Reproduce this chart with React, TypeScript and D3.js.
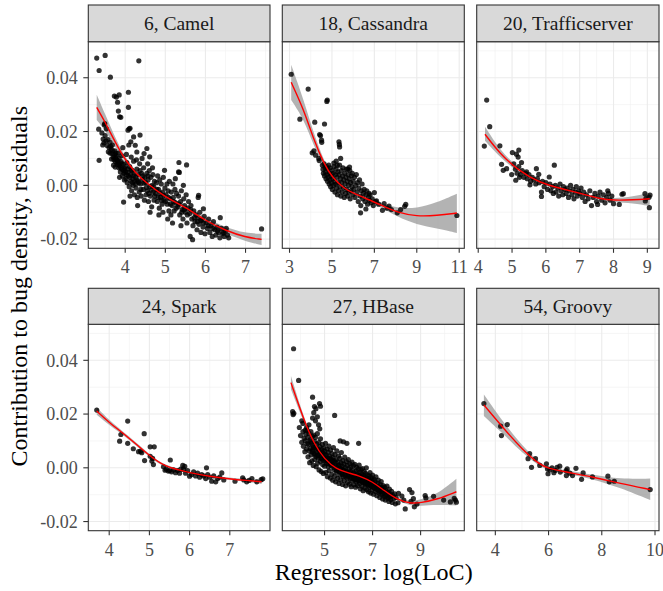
import React from 'react';
import * as d3 from 'd3';

type P = [number, number];

const facetTitles = ['6, Camel', '18, Cassandra', '20, Trafficserver', '24, Spark', '27, HBase', '54, Groovy'];
const xAxisTitle = 'Regressor: log(LoC)';
const yAxisTitle = 'Contribution to bug density, residuals';

const yDomain: P = [-0.0234, 0.0534];
const yTicks = [-0.02, 0, 0.02, 0.04];
const yTickLabels = ['-0.02', '0.00', '0.02', '0.04'];
const yMinor = [-0.01, 0.01, 0.03, 0.05];

const camelXDomain: P = [3.08, 7.61];
const cassandraXDomain: P = [2.66, 11.24];
const trafficXDomain: P = [3.955, 9.345];
const sparkXDomain: P = [3.48, 8.0];
const hbaseXDomain: P = [3.24, 10.82];
const groovyXDomain: P = [3.3, 10.15];

const camelXTicks = [4, 5, 6, 7];
const cassandraXTicks = [3, 5, 7, 9, 11];
const trafficXTicks = [4, 5, 6, 7, 8, 9];
const sparkXTicks = [4, 5, 6, 7];
const hbaseXTicks = [5, 7, 9];
const groovyXTicks = [4, 6, 8, 10];

const camelXMinor = [3.5, 4.5, 5.5, 6.5, 7.5];
const cassandraXMinor = [4, 6, 8, 10];
const trafficXMinor = [4.5, 5.5, 6.5, 7.5, 8.5];
const sparkXMinor = [3.5, 4.5, 5.5, 6.5, 7.5];
const hbaseXMinor = [4, 6, 8, 10];
const groovyXMinor = [5, 7, 9];

const camelPoints: P[] = [
  [3.29,0.0473],[3.50,0.0483],[3.35,0.0427],[3.63,0.0402],[4.34,0.0463],[3.73,0.0332],[3.78,0.0328],[3.81,0.0309],[4.08,0.0346],[4.08,0.0290],
  [3.83,0.0276],[3.89,0.0253],[3.86,0.0255],[3.34,0.0209],[3.35,0.0093],[3.49,0.0230],[4.10,0.0210],[4.12,0.0212],[4.37,0.0187],[4.07,0.0205],
  [3.96,-0.0062],[4.98,0.0056],[5.34,0.0085],[5.53,0.0076],[5.33,0.0050],[5.35,0.0048],[5.83,-0.0037],[5.82,-0.0045],[5.95,-0.0087],[6.37,-0.0120],
  [7.40,-0.0162],[5.68,-0.0202],[5.62,-0.0190],[3.85,0.0336],[4.21,0.0180],[4.25,0.0149],[4.14,0.0162],[4.29,0.0124],[4.54,0.0137],[4.47,0.0118],[4.61,0.0106],
  [3.42,0.0195],[3.45,0.0172],[3.47,0.0158],[3.50,0.0185],[3.52,0.0165],[3.55,0.0148],[3.57,0.0170],[3.60,0.0140],[3.58,0.0125],[3.62,0.0160],[3.44,0.0150],[3.53,0.0210],[3.48,0.0225],
  [3.65,0.0135],[3.67,0.0118],[3.70,0.0105],[3.72,0.0095],[3.68,0.0150],[3.74,0.0128],[3.76,0.0088],[3.78,0.0110],[3.71,0.0075],[3.79,0.0095],[3.75,0.0068],[3.66,0.0098],[3.80,0.0078],[3.77,0.0120],
  [3.82,0.0085],[3.84,0.0065],[3.85,0.0100],[3.87,0.0072],[3.88,0.0050],[3.90,0.0088],[3.92,0.0060],[3.93,0.0035],[3.95,0.0078],[3.97,0.0045],[3.98,0.0020],[3.86,0.0030],[3.91,0.0110],[3.99,0.0062],[3.83,0.0120],[3.94,0.0140],
  [4.01,0.0050],[4.02,0.0025],[4.04,0.0085],[4.05,0.0010],[4.06,0.0060],[4.08,0.0035],[4.10,-0.0005],[4.11,0.0070],[4.13,0.0040],[4.14,0.0015],[4.16,-0.0020],[4.17,0.0055],[4.19,0.0025],[4.20,0.0000],[4.22,0.0045],[4.23,-0.0035],[4.03,0.0115],[4.09,0.0150],[4.15,0.0105],[4.21,0.0090],[4.12,-0.0040],[4.24,0.0015],
  [4.26,0.0030],[4.27,-0.0010],[4.29,0.0060],[4.30,-0.0045],[4.32,0.0015],[4.33,0.0040],[4.35,-0.0025],[4.36,0.0080],[4.38,0.0005],[4.40,-0.0040],[4.41,0.0045],[4.43,0.0020],[4.45,-0.0015],[4.46,0.0065],[4.48,-0.0055],[4.49,0.0030],[4.31,-0.0075],[4.28,0.0095],[4.42,0.0100],
  [4.51,0.0010],[4.52,-0.0035],[4.54,0.0045],[4.55,-0.0020],[4.57,0.0020],[4.58,-0.0060],[4.60,0.0055],[4.61,-0.0005],[4.63,-0.0040],[4.64,0.0030],[4.66,-0.0080],[4.67,0.0000],[4.69,0.0040],[4.70,-0.0025],[4.72,-0.0055],[4.73,0.0015],[4.56,0.0080],[4.62,-0.0100],[4.68,0.0065],
  [4.76,-0.0030],[4.78,0.0010],[4.80,-0.0060],[4.81,0.0035],[4.83,-0.0015],[4.85,-0.0085],[4.86,0.0020],[4.88,-0.0045],[4.90,0.0005],[4.92,-0.0070],[4.93,-0.0025],[4.95,0.0030],[4.97,-0.0055],[4.99,-0.0010],[4.84,-0.0110],[4.94,-0.0100],
  [5.02,-0.0035],[5.04,0.0005],[5.05,-0.0070],[5.07,-0.0020],[5.09,-0.0095],[5.10,0.0015],[5.12,-0.0050],[5.14,-0.0110],[5.15,-0.0025],[5.17,-0.0075],[5.19,0.0005],[5.20,-0.0045],[5.22,-0.0095],[5.24,-0.0015],[5.26,-0.0065],[5.28,-0.0030],[5.06,-0.0125],[5.18,-0.0140],[5.25,0.0025],
  [5.31,-0.0080],[5.33,-0.0040],[5.36,-0.0110],[5.38,-0.0060],[5.40,-0.0020],[5.42,-0.0090],[5.44,-0.0125],[5.46,-0.0050],[5.48,-0.0075],[5.50,-0.0100],[5.52,-0.0035],[5.54,-0.0140],[5.56,-0.0085],[5.58,-0.0060],[5.39,-0.0150],[5.45,0.0000],
  [5.61,-0.0105],[5.64,-0.0075],[5.66,-0.0125],[5.69,-0.0150],[5.71,-0.0095],[5.74,-0.0135],[5.76,-0.0110],[5.79,-0.0165],[5.81,-0.0120],[5.84,-0.0145],[5.86,-0.0100],[5.89,-0.0175],[5.91,-0.0130],[5.94,-0.0155],[5.97,-0.0115],[5.99,-0.0180],
  [6.02,-0.0140],[6.05,-0.0160],[6.08,-0.0125],[6.11,-0.0175],[6.14,-0.0150],[6.17,-0.0190],[6.20,-0.0135],[6.23,-0.0165],[6.26,-0.0185],[6.29,-0.0155],[6.33,-0.0175],[6.36,-0.0195],[6.40,-0.0160],[6.43,-0.0180],[6.47,-0.0190],[6.50,-0.0170],[6.55,-0.0185],[6.58,-0.0195],[6.52,-0.0160],
  [3.62,0.0120],[3.64,0.0145],[3.69,0.0128],[3.73,0.0112],[3.76,0.0102],[3.81,0.0092],[3.84,0.0078],[3.89,0.0065],[3.91,0.0082],[3.96,0.0055],[4.00,0.0070],[4.03,0.0040],
  [4.07,0.0048],[4.11,0.0030],[4.15,0.0058],[4.18,0.0010],[4.21,0.0035],[4.26,0.0005],[4.30,0.0020],[4.34,0.0010],[4.37,0.0055],[4.39,-0.0015],[4.44,0.0035],[4.47,0.0008],
  [4.53,-0.0008],[4.57,0.0035],[4.59,-0.0030],[4.65,-0.0018],[4.71,-0.0005],[4.74,-0.0040],[4.79,-0.0015],[4.82,-0.0045],[4.87,-0.0030],[4.91,-0.0055],[4.96,-0.0038],[5.01,-0.0060],
  [5.08,-0.0045],[5.13,-0.0070],[5.21,-0.0060],[5.27,-0.0085],[5.34,-0.0070],[5.41,-0.0100],[5.47,-0.0090],[5.55,-0.0110],[5.63,-0.0090],[5.72,-0.0120],[5.80,-0.0135],[5.88,-0.0130],
  [5.95,-0.0140],[6.07,-0.0150],[6.18,-0.0160],[6.30,-0.0170],[6.45,-0.0175],
];

const cassandraPoints: P[] = [
  [3.08,0.0413],[3.49,0.0246],[3.88,0.0358],[4.78,0.0317],[4.76,0.0312],[4.19,0.0235],[4.42,0.0189],[4.46,0.0185],[4.65,0.0228],[4.51,0.0168],[4.52,0.0160],
  [5.33,0.0162],[5.36,0.0143],[5.35,0.0152],[4.07,0.0121],[4.23,0.0112],[4.15,0.0128],[5.41,0.0100],[5.09,0.0083],[5.25,0.0075],[5.20,0.0090],[5.83,0.0068],[5.75,0.0060],
  [4.38,0.0100],[4.40,0.0092],[6.35,-0.0102],[6.60,-0.0088],[7.00,-0.0027],[6.75,-0.0030],[7.46,-0.0068],[7.38,-0.0093],[7.69,-0.0077],[7.60,-0.0085],[8.08,-0.0102],
  [8.24,-0.0090],[8.48,-0.0071],[8.43,-0.0078],[10.89,-0.0112],[7.20,-0.0070],[7.10,-0.0058],[7.80,-0.0090],
  [4.55,0.0075],[4.58,0.0060],[4.60,0.0045],[4.63,0.0080],[4.65,0.0035],[4.68,0.0065],[4.70,0.0050],[4.72,0.0025],[4.74,0.0070],[4.77,0.0040],[4.79,0.0015],[4.80,0.0060],
  [4.83,0.0030],[4.85,0.0075],[4.87,0.0005],[4.89,0.0045],[4.90,0.0020],[4.92,0.0065],[4.94,-0.0005],[4.96,0.0035],[4.98,0.0010],
  [5.00,0.0055],[5.02,-0.0015],[5.04,0.0025],[5.06,0.0045],[5.08,0.0000],[5.10,0.0070],[5.12,0.0015],[5.14,-0.0025],[5.16,0.0040],[5.18,0.0005],[5.20,0.0060],[5.22,-0.0010],
  [5.24,0.0030],[5.26,-0.0035],[5.28,0.0050],[5.30,0.0010],[5.32,-0.0020],[5.34,0.0040],[5.36,0.0075],[5.38,-0.0005],[5.40,0.0025],[5.42,-0.0040],[5.44,0.0055],[5.46,0.0010],
  [5.48,-0.0025],[5.50,0.0035],[5.52,0.0065],[5.54,-0.0010],[5.56,0.0020],[5.58,-0.0045],
  [5.60,0.0045],[5.62,0.0005],[5.64,-0.0030],[5.66,0.0030],[5.68,0.0060],[5.70,-0.0015],[5.72,0.0015],[5.74,-0.0040],[5.76,0.0040],[5.78,0.0000],[5.80,-0.0025],[5.82,0.0025],
  [5.84,0.0055],[5.86,-0.0050],[5.88,0.0010],[5.90,-0.0020],[5.92,0.0035],[5.94,-0.0005],[5.96,0.0045],[5.98,-0.0035],
  [6.00,0.0015],[6.03,-0.0015],[6.06,0.0030],[6.09,-0.0045],[6.12,0.0000],[6.15,0.0040],[6.18,-0.0025],[6.21,0.0010],[6.24,-0.0060],[6.27,-0.0010],[6.30,0.0020],[6.33,-0.0040],
  [6.36,-0.0075],[6.39,-0.0020],[6.42,0.0005],[6.45,-0.0050],[6.48,-0.0030],
  [6.52,-0.0015],[6.56,-0.0060],[6.60,-0.0035],[6.64,-0.0020],[6.68,-0.0070],[6.72,-0.0045],[6.76,-0.0055],[6.80,-0.0035],[6.85,-0.0065],[6.90,-0.0050],[6.95,-0.0075],[7.05,-0.0060],
];

const trafficPoints: P[] = [
  [4.25,0.0317],[4.34,0.0218],[4.18,0.0146],[4.64,0.0147],[4.69,0.0078],[4.74,0.0056],[4.84,0.0062],[4.99,0.0040],[5.01,0.0122],[5.13,0.0116],[5.20,0.0131],[5.18,0.0105],
  [5.28,0.0085],[5.11,0.0019],[5.22,0.0030],[5.43,0.0050],[5.53,0.0002],[5.72,0.0062],[5.79,0.0041],[5.87,-0.0025],[5.87,-0.0041],[6.25,0.0075],[6.10,0.0031],
  [7.35,-0.0075],[7.53,-0.0071],[8.00,-0.0068],[8.17,-0.0071],[8.29,-0.0031],[8.25,-0.0033],[8.93,-0.0031],[9.06,-0.0083],[9.05,-0.0044],[8.94,-0.0058],[9.08,-0.0036],[8.96,-0.0048],
  [5.05,0.0080],[5.10,0.0060],[5.15,0.0045],[5.20,0.0070],[5.25,0.0040],[5.30,0.0055],[5.35,0.0030],[5.40,0.0045],[5.45,0.0025],[5.50,0.0040],[5.55,0.0015],[5.60,0.0030],
  [5.65,0.0020],[5.70,0.0005],[5.75,0.0025],[5.80,0.0010],[5.90,0.0015],[5.95,-0.0005],[6.00,0.0010],[6.05,-0.0015],[6.12,0.0005],[6.15,-0.0020],[6.20,-0.0005],[6.22,-0.0030],
  [6.28,0.0000],[6.30,-0.0025],[6.35,-0.0010],[6.38,-0.0040],[6.42,0.0005],[6.45,-0.0020],[6.50,-0.0035],[6.52,-0.0005],[6.56,-0.0015],[6.60,-0.0030],[6.63,-0.0010],[6.67,-0.0045],
  [6.70,-0.0020],[6.73,0.0000],[6.77,-0.0035],[6.80,-0.0015],[6.83,-0.0050],[6.87,-0.0025],[6.90,-0.0005],[6.93,-0.0040],[6.97,-0.0020],[7.00,-0.0030],[7.04,-0.0010],[7.08,-0.0045],
  [7.12,-0.0025],[7.16,-0.0060],[7.20,-0.0035],[7.25,-0.0050],[7.30,-0.0020],[7.40,-0.0045],[7.45,-0.0030],[7.50,-0.0060],[7.55,-0.0040],[7.60,-0.0025],[7.65,-0.0055],[7.70,-0.0035],
  [7.75,-0.0065],[7.80,-0.0045],[7.83,-0.0020],[7.90,-0.0055],[7.95,-0.0040],[7.85,-0.0030],
];

const sparkPoints: P[] = [
  [3.69,0.0215],[4.26,0.0099],[4.29,0.0124],[4.46,0.0174],[4.46,0.0091],[4.60,0.0071],[4.73,0.0060],[4.81,0.0056],[4.78,0.0062],[4.87,0.0127],[4.88,0.0027],[5.02,0.0043],
  [5.02,0.0078],[5.12,0.0078],[5.06,0.0025],[5.10,0.0012],[5.08,0.0035],[5.35,0.0004],[5.39,-0.0009],[5.52,0.0029],[5.47,-0.0012],[5.83,0.0009],[5.88,0.0005],[5.85,-0.0005],
  [6.00,-0.0031],[6.42,0.0000],[6.80,-0.0019],[6.55,-0.0050],[6.65,-0.0052],[7.13,-0.0050],[7.32,-0.0037],[7.42,-0.0052],[7.55,-0.0040],[7.67,-0.0052],[7.82,-0.0041],[7.78,-0.0044],
  [7.35,-0.0045],[7.48,-0.0047],
  [5.42,-0.0005],[5.50,-0.0010],[5.55,-0.0015],[5.60,-0.0008],[5.65,-0.0018],[5.70,-0.0010],[5.75,-0.0020],[5.78,-0.0005],[5.90,-0.0020],[5.95,-0.0010],[6.05,-0.0025],[6.10,-0.0015],
  [6.15,-0.0030],[6.20,-0.0020],[6.25,-0.0035],[6.30,-0.0025],[6.35,-0.0030],[6.40,-0.0040],[6.45,-0.0025],[6.50,-0.0035],[6.60,-0.0030],[6.70,-0.0040],[6.75,-0.0035],[6.85,-0.0045],
];

const hbasePoints: P[] = [
  [3.71,0.0443],[3.92,0.0325],[4.50,0.0263],[3.67,0.0209],[3.72,0.0203],[3.69,0.0198],[5.42,0.0195],[4.79,0.0239],[4.83,0.0229],[4.64,0.0220],[4.58,0.0228],[4.55,0.0205],
  [4.70,0.0190],[4.62,0.0175],[4.50,0.0185],[4.10,0.0165],[4.05,0.0175],[4.25,0.0150],[4.20,0.0140],[4.35,0.0160],[4.75,0.0160],[4.80,0.0145],[5.79,0.0097],[5.93,0.0091],
  [6.42,0.0091],[5.65,0.0100],[8.36,-0.0153],[8.54,-0.0081],[8.64,-0.0092],[9.19,-0.0103],[9.22,-0.0112],[9.54,-0.0106],[9.96,-0.0120],[10.24,-0.0127],[10.40,-0.0114],
  [10.49,-0.0128],[10.45,-0.0120],[8.06,-0.0130],[8.08,-0.0095],[8.22,-0.0105],[8.74,-0.0145],[8.85,-0.0135],[8.60,-0.0125],[8.70,-0.0115],[8.30,-0.0120],
  [3.95,0.0150],[4.00,0.0120],[4.05,0.0095],[4.10,0.0135],[4.12,0.0080],[4.15,0.0110],[4.18,0.0060],[4.20,0.0100],[4.22,0.0125],[4.25,0.0070],[4.27,0.0090],[4.28,0.0140],
  [4.30,0.0112],[4.31,0.0041],[4.33,0.0087],[4.35,0.0128],[4.36,0.0063],[4.38,0.0019],[4.40,0.0104],[4.41,0.0072],[4.43,0.0135],[4.44,0.0048],[4.46,0.0091],[4.47,0.0026],
  [4.49,0.0117],[4.50,0.0066],[4.52,0.0083],[4.53,0.0009],[4.55,0.0122],[4.56,0.0054],[4.58,0.0098],[4.59,0.0031],[4.61,0.0076],[4.62,0.0113],[4.64,0.0042],[4.65,0.0004],
  [4.67,0.0089],[4.68,0.0058],[4.70,0.0127],[4.71,0.0017],[4.73,0.0071],[4.74,0.0036],[4.76,0.0094],[4.77,-0.0008],[4.79,0.0052],[4.80,0.0079],[4.82,0.0024],[4.83,0.0108],
  [4.85,0.0046],[4.86,-0.0014],[4.88,0.0068],[4.89,0.0033],[4.91,0.0087],[4.92,0.0012],[4.94,0.0055],[4.95,-0.0021],[4.97,0.0074],[4.98,0.0039],
  [5.00,0.0006],[5.01,0.0062],[5.03,0.0027],[5.04,0.0091],[5.06,-0.0017],[5.07,0.0048],[5.09,0.0015],[5.10,0.0070],[5.12,-0.0033],[5.13,0.0036],[5.15,0.0058],[5.16,0.0003],
  [5.18,0.0081],[5.19,-0.0011],[5.21,0.0044],[5.22,0.0021],[5.24,-0.0038],[5.25,0.0066],[5.27,0.0009],[5.28,0.0032],[5.30,-0.0024],[5.31,0.0053],[5.33,0.0014],[5.34,-0.0046],
  [5.36,0.0038],[5.37,0.0075],[5.39,-0.0006],[5.40,0.0025],[5.42,-0.0031],[5.43,0.0049],[5.45,0.0008],[5.46,-0.0052],[5.48,0.0030],[5.49,-0.0016],[5.51,0.0063],[5.52,0.0002],
  [5.54,-0.0039],[5.55,0.0022],[5.57,-0.0009],[5.58,0.0044],[5.60,-0.0058],[5.61,0.0011],[5.63,-0.0027],[5.64,0.0035],[5.66,-0.0004],[5.67,-0.0045],[5.69,0.0018],[5.70,0.0057],
  [5.72,-0.0019],[5.73,0.0006],[5.75,-0.0062],[5.76,0.0027],[5.78,-0.0033],[5.79,-0.0008],[5.81,0.0014],[5.82,-0.0048],[5.84,0.0040],[5.85,-0.0023],[5.87,0.0001],[5.88,-0.0067],
  [5.90,-0.0012],[5.91,0.0023],[5.93,-0.0037],[5.94,0.0009],[5.96,-0.0054],[5.97,-0.0018],[5.99,0.0031],
  [6.01,-0.0029],[6.02,-0.0003],[6.04,-0.0061],[6.05,0.0016],[6.07,-0.0041],[6.08,-0.0013],[6.10,0.0004],[6.11,-0.0070],[6.13,-0.0026],[6.14,0.0021],[6.16,-0.0049],[6.17,-0.0009],
  [6.19,-0.0035],[6.20,0.0008],[6.22,-0.0063],[6.23,-0.0019],[6.25,-0.0044],[6.26,0.0013],[6.28,-0.0031],[6.29,-0.0072],[6.31,-0.0011],[6.32,-0.0052],[6.34,0.0002],[6.35,-0.0038],
  [6.37,-0.0022],[6.38,-0.0066],[6.40,-0.0005],[6.41,-0.0047],[6.43,-0.0028],[6.44,0.0010],[6.46,-0.0058],[6.47,-0.0016],[6.49,-0.0078],[6.50,-0.0034],[6.52,-0.0007],[6.53,-0.0050],
  [6.55,-0.0024],[6.56,-0.0069],[6.58,-0.0003],[6.59,-0.0041],[6.61,-0.0085],[6.62,-0.0029],[6.64,-0.0056],[6.65,-0.0014],[6.67,-0.0046],[6.68,-0.0075],[6.70,-0.0021],[6.71,-0.0060],
  [6.73,-0.0037],[6.74,0.0000],[6.76,-0.0082],[6.77,-0.0048],[6.79,-0.0026],[6.80,-0.0065],[6.82,-0.0040],[6.83,-0.0089],[6.85,-0.0031],[6.86,-0.0057],[6.88,-0.0073],[6.89,-0.0018],
  [6.91,-0.0050],[6.92,-0.0094],[6.94,-0.0036],[6.95,-0.0068],[6.97,-0.0045],[6.98,-0.0081],
  [7.00,-0.0027],[7.02,-0.0060],[7.04,-0.0098],[7.06,-0.0043],[7.08,-0.0076],[7.10,-0.0052],[7.12,-0.0088],[7.14,-0.0034],[7.16,-0.0069],[7.18,-0.0104],[7.20,-0.0057],[7.22,-0.0082],
  [7.24,-0.0046],[7.26,-0.0093],[7.28,-0.0071],[7.30,-0.0110],[7.32,-0.0062],[7.34,-0.0087],[7.36,-0.0051],[7.38,-0.0099],[7.40,-0.0075],[7.42,-0.0116],[7.44,-0.0066],[7.46,-0.0090],
  [7.48,-0.0106],[7.50,-0.0072],[7.53,-0.0120],[7.55,-0.0085],[7.58,-0.0101],[7.60,-0.0068],[7.63,-0.0113],[7.65,-0.0092],[7.68,-0.0125],[7.70,-0.0079],[7.73,-0.0107],[7.76,-0.0118],
  [7.79,-0.0088],[7.82,-0.0129],[7.85,-0.0103],[7.88,-0.0115],[7.92,-0.0097],[7.95,-0.0134],[7.98,-0.0110],
  [4.42,0.0098],[4.48,0.0060],[4.54,0.0075],[4.60,0.0050],[4.66,0.0069],[4.72,0.0045],[4.78,0.0064],[4.84,0.0037],[4.90,0.0058],[4.96,0.0028],[5.02,0.0047],[5.08,0.0030],
  [5.14,0.0018],[5.20,0.0035],[5.26,0.0012],[5.32,0.0027],[5.38,0.0001],[5.44,0.0019],[5.50,-0.0010],[5.56,0.0007],[5.62,-0.0015],[5.68,-0.0002],[5.74,-0.0025],[5.80,-0.0010],
  [5.86,-0.0030],[5.92,-0.0016],[5.98,-0.0033],[6.03,-0.0020],[6.09,-0.0037],[6.15,-0.0024],[6.21,-0.0040],[6.27,-0.0026],[6.33,-0.0045],[6.39,-0.0030],[6.45,-0.0048],[6.51,-0.0033],
  [6.57,-0.0052],[6.63,-0.0038],[6.69,-0.0057],[6.75,-0.0044],[6.81,-0.0062],[6.87,-0.0049],[6.93,-0.0067],[6.99,-0.0055],[7.05,-0.0072],[7.11,-0.0063],[7.17,-0.0080],[7.23,-0.0070],
  [7.29,-0.0088],[7.35,-0.0078],[7.41,-0.0095],[7.47,-0.0083],[7.54,-0.0105],[7.61,-0.0090],[7.67,-0.0110],[7.74,-0.0097],
];

const groovyPoints: P[] = [
  [3.57,0.0239],[4.20,0.0155],[4.23,0.0120],[4.45,0.0161],[5.29,0.0053],[5.23,0.0034],[5.36,0.0002],[5.51,0.0034],[5.67,0.0009],[5.92,0.0015],[5.98,-0.0022],[5.96,-0.0004],
  [6.13,0.0000],[6.25,-0.0010],[6.32,0.0002],[6.42,0.0006],[6.44,-0.0016],[6.66,-0.0010],[6.67,-0.0029],[6.70,-0.0004],[6.90,-0.0029],[7.03,-0.0002],[7.24,-0.0043],[7.30,-0.0019],
  [7.65,-0.0034],[8.23,-0.0031],[8.28,-0.0052],[8.47,-0.0050],[9.82,-0.0081],[6.05,-0.0008],[6.20,-0.0018],[6.80,-0.0020],
];

const camelSmoothX = [3.29, 3.5, 3.75, 4.0, 4.25, 4.5, 5.0, 5.5, 6.0, 6.5, 7.0, 7.4];
const camelSmoothY = [0.0290, 0.0235, 0.0160, 0.0095, 0.0048, 0.0012, -0.0044, -0.0081, -0.0131, -0.0168, -0.0193, -0.0201];
const camelSmoothLo = [0.0243, 0.0205, 0.0143, 0.0085, 0.0040, 0.0005, -0.0052, -0.0090, -0.0141, -0.0180, -0.0208, -0.0222];
const camelSmoothHi = [0.0337, 0.0265, 0.0177, 0.0105, 0.0056, 0.0019, -0.0036, -0.0072, -0.0121, -0.0156, -0.0178, -0.0180];

const cassandraSmoothX = [3.08, 3.68, 4.15, 4.62, 5.0, 5.57, 6.04, 7.0, 7.52, 8.07, 9.0, 9.95, 10.89];
const cassandraSmoothY = [0.0383, 0.0280, 0.0168, 0.0081, 0.0031, -0.0012, -0.0031, -0.0062, -0.0081, -0.0100, -0.0116, -0.0112, -0.0103];
const cassandraSmoothLo = [0.0317, 0.0245, 0.0145, 0.0070, 0.0024, -0.0017, -0.0036, -0.0069, -0.0091, -0.0116, -0.0146, -0.0160, -0.0177];
const cassandraSmoothHi = [0.0448, 0.0315, 0.0191, 0.0092, 0.0038, -0.0007, -0.0026, -0.0055, -0.0071, -0.0084, -0.0086, -0.0064, -0.0031];

const trafficSmoothX = [4.2, 4.64, 5.18, 5.82, 6.46, 7.05, 7.6, 8.0, 8.58, 9.07];
const trafficSmoothY = [0.0190, 0.0118, 0.0056, 0.0009, -0.0012, -0.0031, -0.0050, -0.0056, -0.0054, -0.0050];
const trafficSmoothLo = [0.0166, 0.0105, 0.0048, 0.0004, -0.0016, -0.0035, -0.0055, -0.0063, -0.0066, -0.0077];
const trafficSmoothHi = [0.0218, 0.0131, 0.0064, 0.0014, -0.0008, -0.0027, -0.0045, -0.0049, -0.0042, -0.0027];

const sparkSmoothX = [3.69, 4.0, 4.44, 5.02, 5.35, 6.01, 6.5, 7.0, 7.4, 7.79];
const sparkSmoothY = [0.0211, 0.0168, 0.0118, 0.0043, 0.0006, -0.0019, -0.0032, -0.0041, -0.0047, -0.0052];
const sparkSmoothLo = [0.0197, 0.0159, 0.0112, 0.0038, 0.0002, -0.0023, -0.0036, -0.0045, -0.0052, -0.0060];
const sparkSmoothHi = [0.0225, 0.0177, 0.0124, 0.0048, 0.0010, -0.0015, -0.0028, -0.0037, -0.0042, -0.0044];

const hbaseSmoothX = [3.6, 4.13, 4.54, 5.0, 5.51, 6.0, 6.49, 7.0, 7.46, 8.01, 8.57, 9.0, 9.68, 10.49];
const hbaseSmoothY = [0.0317, 0.0180, 0.0093, 0.0031, -0.0006, -0.0019, -0.0031, -0.0052, -0.0083, -0.0118, -0.0133, -0.0130, -0.0118, -0.0089];
const hbaseSmoothLo = [0.0292, 0.0170, 0.0087, 0.0027, -0.0009, -0.0022, -0.0034, -0.0055, -0.0087, -0.0123, -0.0141, -0.0142, -0.0137, -0.0140];
const hbaseSmoothHi = [0.0342, 0.0190, 0.0099, 0.0035, -0.0003, -0.0016, -0.0028, -0.0049, -0.0079, -0.0113, -0.0125, -0.0118, -0.0099, -0.0041];

const groovySmoothX = [3.57, 4.29, 5.04, 5.67, 5.98, 6.67, 7.68, 8.68, 9.82];
const groovySmoothY = [0.0234, 0.0149, 0.0065, 0.0012, -0.0002, -0.0016, -0.0034, -0.0058, -0.0081];
const groovySmoothLo = [0.0193, 0.0127, 0.0052, 0.0005, -0.0008, -0.0022, -0.0042, -0.0074, -0.0120];
const groovySmoothHi = [0.0273, 0.0171, 0.0078, 0.0019, 0.0004, -0.0010, -0.0026, -0.0042, -0.0040];

const panels = [
  { title: facetTitles[0], dom: camelXDomain, ticks: camelXTicks, minor: camelXMinor, pts: camelPoints, sx: camelSmoothX, sy: camelSmoothY, lo: camelSmoothLo, hi: camelSmoothHi },
  { title: facetTitles[1], dom: cassandraXDomain, ticks: cassandraXTicks, minor: cassandraXMinor, pts: cassandraPoints, sx: cassandraSmoothX, sy: cassandraSmoothY, lo: cassandraSmoothLo, hi: cassandraSmoothHi },
  { title: facetTitles[2], dom: trafficXDomain, ticks: trafficXTicks, minor: trafficXMinor, pts: trafficPoints, sx: trafficSmoothX, sy: trafficSmoothY, lo: trafficSmoothLo, hi: trafficSmoothHi },
  { title: facetTitles[3], dom: sparkXDomain, ticks: sparkXTicks, minor: sparkXMinor, pts: sparkPoints, sx: sparkSmoothX, sy: sparkSmoothY, lo: sparkSmoothLo, hi: sparkSmoothHi },
  { title: facetTitles[4], dom: hbaseXDomain, ticks: hbaseXTicks, minor: hbaseXMinor, pts: hbasePoints, sx: hbaseSmoothX, sy: hbaseSmoothY, lo: hbaseSmoothLo, hi: hbaseSmoothHi },
  { title: facetTitles[5], dom: groovyXDomain, ticks: groovyXTicks, minor: groovyXMinor, pts: groovyPoints, sx: groovySmoothX, sy: groovySmoothY, lo: groovySmoothLo, hi: groovySmoothHi },
];

const W = 663, H = 591;
const colLeft = [88.3, 282.3, 476.7];
const colRight = [270, 464.3, 659];
const rowStripTop = [5, 288.3];
const rowPanelTop = [41.7, 324.3];
const rowPanelBottom = [248.3, 530.7];
const FONT = "'Liberation Serif', 'Times New Roman', serif";

export default function App() {
  return (
    <svg width={W} height={H} style={{ position: 'absolute', left: 0, top: 0, background: '#fff' }} fontFamily={FONT}>
      <rect x={0} y={0} width={W} height={H} fill="#fff" />
      {panels.map((p, i) => {
        const col = i % 3, row = Math.floor(i / 3);
        const L = colLeft[col], R = colRight[col];
        const T = rowPanelTop[row], B = rowPanelBottom[row], ST = rowStripTop[row];
        const x = d3.scaleLinear().domain(p.dom).range([L, R]);
        const y = d3.scaleLinear().domain(yDomain).range([B, T]);
        const sm = p.sx.map((v, k) => ({ x: v, y: p.sy[k], lo: p.lo[k], hi: p.hi[k] }));
        const area = d3.area<any>().x(d => x(d.x)).y0(d => y(d.lo)).y1(d => y(d.hi)).curve(d3.curveBasis);
        const line = d3.line<any>().x(d => x(d.x)).y(d => y(d.y)).curve(d3.curveBasis);
        const clipId = `clip${i}`;
        return (
          <g key={i}>
            <defs>
              <clipPath id={clipId}><rect x={L} y={T} width={R - L} height={B - T} /></clipPath>
            </defs>
            {yMinor.map(v => (
              <line key={'ym' + v} x1={L} x2={R} y1={y(v)} y2={y(v)} stroke="#F0F0F0" strokeWidth={0.6} />
            ))}
            {p.minor.filter(v => v > p.dom[0] && v < p.dom[1]).map(v => (
              <line key={'xm' + v} x1={x(v)} x2={x(v)} y1={T} y2={B} stroke="#F0F0F0" strokeWidth={0.6} />
            ))}
            {yTicks.map(v => (
              <line key={'yg' + v} x1={L} x2={R} y1={y(v)} y2={y(v)} stroke="#EBEBEB" strokeWidth={1.1} />
            ))}
            {p.ticks.map(v => (
              <line key={'xg' + v} x1={x(v)} x2={x(v)} y1={T} y2={B} stroke="#EBEBEB" strokeWidth={1.1} />
            ))}
            <g clipPath={`url(#${clipId})`}>
              <path d={area(sm) || ''} fill="#999999" fillOpacity={0.75} />
              {p.pts.map((d, k) => (
                <circle key={k} cx={x(d[0])} cy={y(d[1])} r={2.6} fill="#000" fillOpacity={0.8} />
              ))}
              <path d={line(sm) || ''} fill="none" stroke="#FF0000" strokeWidth={1.4} />
            </g>
            <rect x={L} y={T} width={R - L} height={B - T} fill="none" stroke="#333333" strokeWidth={1.1} />
            <rect x={L} y={ST} width={R - L} height={T - ST} fill="#D9D9D9" stroke="#333333" strokeWidth={1.1} />
            <text x={(L + R) / 2} y={(ST + T) / 2} dy="0.35em" textAnchor="middle" fontSize={19.5} fill="#1A1A1A">{p.title}</text>
            {p.ticks.map(v => (
              <g key={'xt' + v}>
                <line x1={x(v)} x2={x(v)} y1={B} y2={B + 4.5} stroke="#333333" strokeWidth={1.1} />
                <text x={x(v)} y={B + 25} textAnchor="middle" fontSize={18} fill="#4D4D4D">{v}</text>
              </g>
            ))}
            {col === 0 && yTicks.map((v, k) => (
              <g key={'yt' + v}>
                <line x1={L - 5} x2={L} y1={y(v)} y2={y(v)} stroke="#333333" strokeWidth={1.1} />
                <text x={L - 10.5} y={y(v)} dy="0.35em" textAnchor="end" fontSize={18} fill="#4D4D4D">{yTickLabels[k]}</text>
              </g>
            ))}
          </g>
        );
      })}
      <text x={(colLeft[0] + colRight[2]) / 2} y={580} textAnchor="middle" fontSize={24} fill="#000">{xAxisTitle}</text>
      <text transform={`translate(27,${(rowPanelTop[0] + rowPanelBottom[1]) / 2}) rotate(-90)`} textAnchor="middle" fontSize={24} fill="#000">{yAxisTitle}</text>
    </svg>
  );
}
